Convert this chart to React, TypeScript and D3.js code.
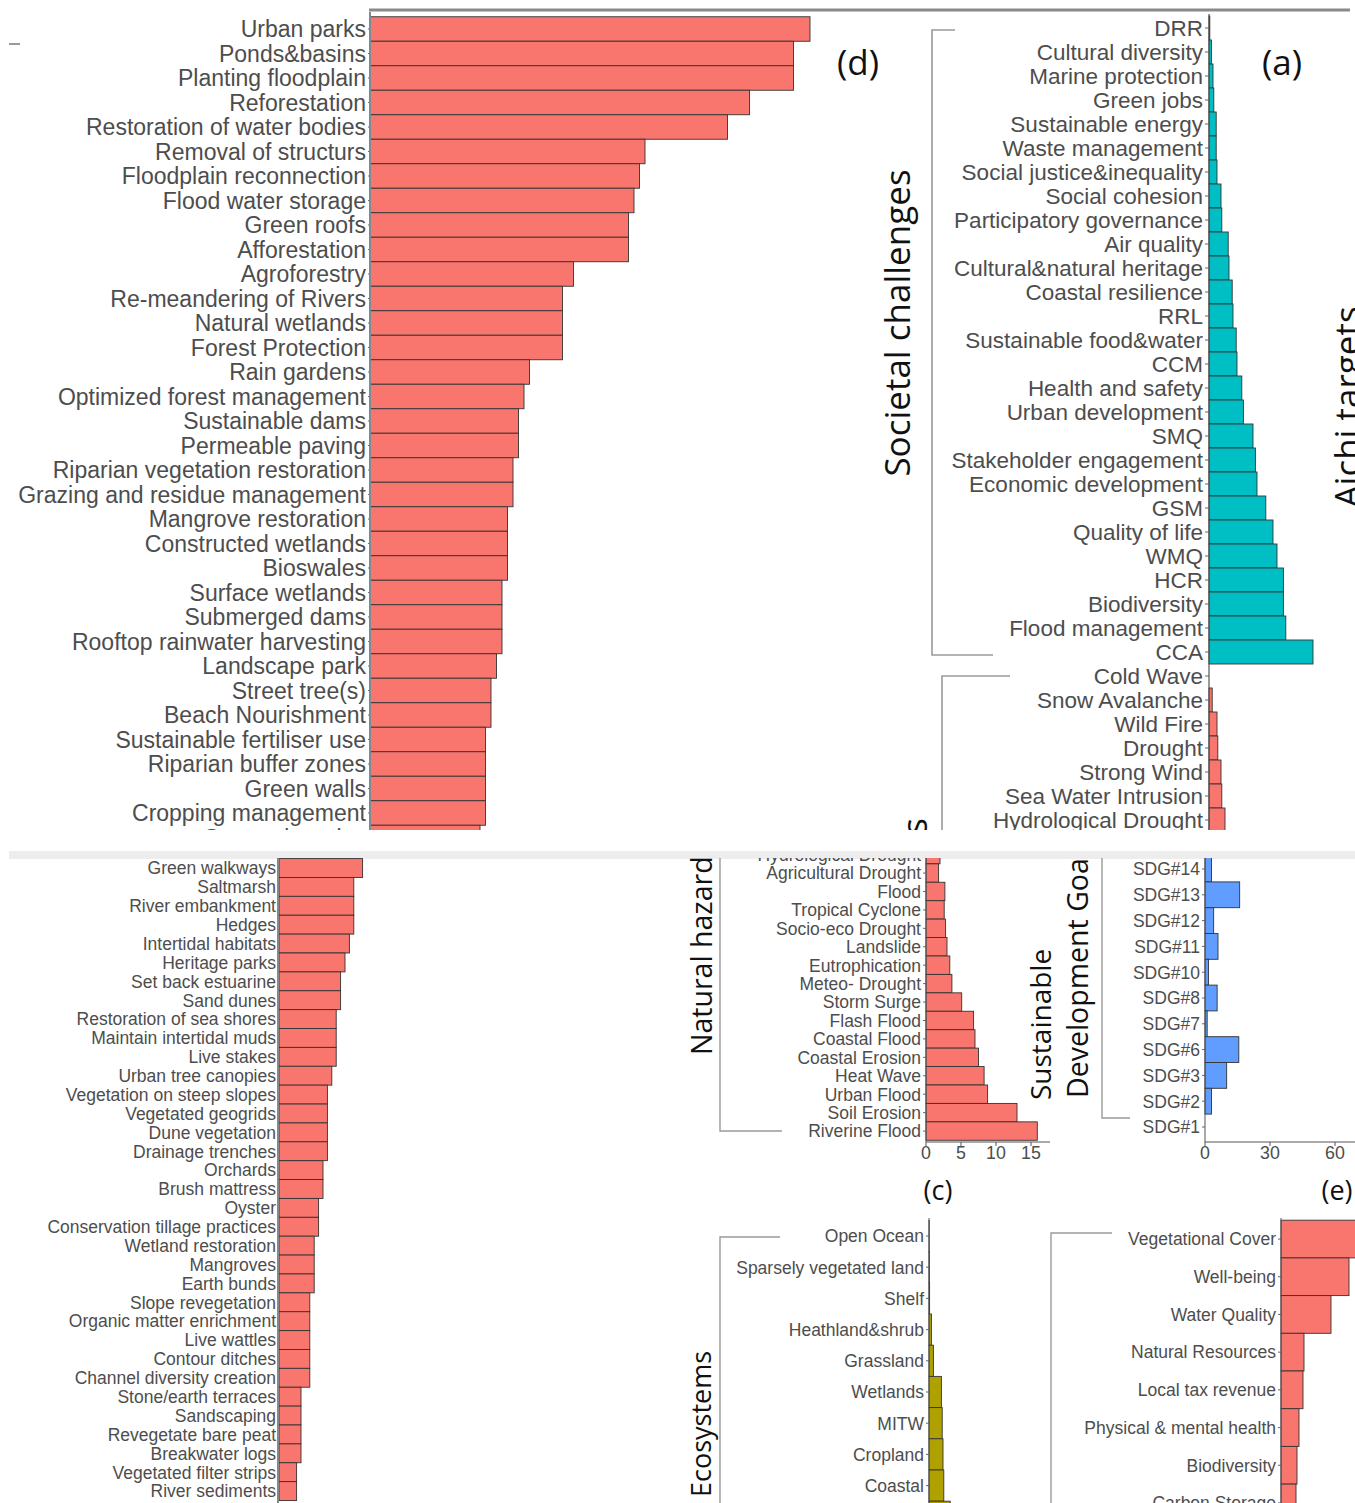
import React from 'react';
import * as d3 from 'd3';

// panel (d): nature-based solutions, upper screenshot
const nbsTop = [
  'Urban parks', 'Ponds&basins', 'Planting floodplain', 'Reforestation', 'Restoration of water bodies',
  'Removal of structurs', 'Floodplain reconnection', 'Flood water storage', 'Green roofs', 'Afforestation',
  'Agroforestry', 'Re-meandering of Rivers', 'Natural wetlands', 'Forest Protection', 'Rain gardens',
  'Optimized forest management', 'Sustainable dams', 'Permeable paving', 'Riparian vegetation restoration',
  'Grazing  and residue management', 'Mangrove restoration', 'Constructed wetlands', 'Bioswales',
  'Surface wetlands', 'Submerged dams', 'Rooftop rainwater harvesting', 'Landscape park', 'Street tree(s)',
  'Beach Nourishment', 'Sustainable fertiliser use', 'Riparian buffer zones', 'Green walls',
  'Cropping management', 'Grassed swales',
];
const nbsTopValues = [
  80, 77, 77, 69, 65, 50, 49, 48, 47, 47, 37, 35, 35, 35, 29, 28, 27, 27, 26,
  26, 25, 25, 25, 24, 24, 24, 23, 22, 22, 21, 21, 21, 21, 20,
];

// panel (d) continued, lower screenshot
const nbsBottom = [
  'Green walkways', 'Saltmarsh', 'River embankment', 'Hedges', 'Intertidal habitats', 'Heritage parks',
  'Set back estuarine', 'Sand dunes', 'Restoration of sea shores', 'Maintain intertidal muds', 'Live stakes',
  'Urban tree canopies', 'Vegetation on steep slopes', 'Vegetated geogrids', 'Dune vegetation',
  'Drainage trenches', 'Orchards', 'Brush mattress', 'Oyster', 'Conservation tillage practices',
  'Wetland restoration', 'Mangroves', 'Earth bunds', 'Slope revegetation', 'Organic matter enrichment',
  'Live wattles', 'Contour ditches', 'Channel diversity creation', 'Stone/earth terraces', 'Sandscaping',
  'Revegetate bare peat', 'Breakwater logs', 'Vegetated filter strips', 'River sediments',
];
const nbsBottomValues = [
  19, 17, 17, 17, 16, 15, 14, 14, 13, 13, 13, 12, 11, 11, 11, 11, 10, 10, 9, 9,
  8, 8, 8, 7, 7, 7, 7, 7, 5, 5, 5, 5, 4, 4,
];

// panel (a): societal challenges + natural hazards (upper screenshot)
const societal = [
  'DRR', 'Cultural diversity', 'Marine protection', 'Green jobs', 'Sustainable energy', 'Waste management',
  'Social justice&inequality', 'Social cohesion', 'Participatory governance', 'Air quality',
  'Cultural&natural heritage', 'Coastal resilience', 'RRL', 'Sustainable food&water', 'CCM',
  'Health and safety', 'Urban development', 'SMQ', 'Stakeholder engagement', 'Economic development',
  'GSM', 'Quality of life', 'WMQ', 'HCR', 'Biodiversity', 'Flood management', 'CCA',
];
const societalValues = [
  0.1, 0.3, 0.5, 0.6, 0.9, 0.9, 1.0, 1.5, 1.6, 2.4, 2.5, 2.9, 3.0, 3.4, 3.5,
  4.1, 4.3, 5.5, 5.8, 6.0, 7.1, 8.0, 8.5, 9.3, 9.3, 9.6, 13.0,
];
const hazardsTop = [
  'Cold Wave', 'Snow Avalanche', 'Wild Fire', 'Drought', 'Strong Wind', 'Sea Water Intrusion', 'Hydrological Drought',
];
const hazardsTopValues = [0, 0.4, 1.0, 1.1, 1.5, 1.6, 2.0];

// panel (c): natural hazards (lower screenshot)
const hazards = [
  'Hydrological Drought', 'Agricultural Drought', 'Flood', 'Tropical Cyclone', 'Socio-eco Drought', 'Landslide',
  'Eutrophication', 'Meteo- Drought', 'Storm Surge', 'Flash Flood', 'Coastal Flood', 'Coastal Erosion',
  'Heat Wave', 'Urban Flood', 'Soil Erosion', 'Riverine Flood',
];
const hazardsValues = [2.0, 1.8, 2.7, 2.6, 2.8, 3.0, 3.4, 3.7, 5.1, 6.8, 7.0, 7.5, 8.3, 8.8, 13.0, 15.9];
const hazardTicks = [0, 5, 10, 15];

// panel (e): SDGs
const sdgs = ['SDG#14', 'SDG#13', 'SDG#12', 'SDG#11', 'SDG#10', 'SDG#8', 'SDG#7', 'SDG#6', 'SDG#3', 'SDG#2', 'SDG#1'];
const sdgValues = [3, 16, 4, 6, 1.6, 5.6, 1, 15.6, 10, 3, 0];
const sdgTicks = [0, 30, 60];

// ecosystems
const ecosystems = [
  'Open Ocean', 'Sparsely vegetated land', 'Shelf', 'Heathland&shrub', 'Grassland', 'Wetlands', 'MITW',
  'Cropland', 'Coastal', 'Forest',
];
const ecosystemValues = [0.05, 0.1, 0.15, 0.6, 1.1, 3.1, 3.3, 3.5, 3.7, 5.3];

// co-benefits
const benefits = [
  'Vegetational Cover', 'Well-being', 'Water Quality', 'Natural Resources', 'Local tax revenue',
  'Physical & mental health', 'Biodiversity', 'Carbon Storage',
];
const benefitValues = [40, 34, 25, 11.5, 11, 9, 8, 7.5];

const RED = '#F8766D';
const TEAL = '#00BFC4';
const BLUE = '#619CFF';
const OLIVE = '#AFA200';
const LABEL = '#4d4d4d';
const W = 1355;
const H = 1503;

function Bars({ labels, values, y0, y1, x, fill, fontSize, squeeze = 1, tick = 3 }) {
  const y = d3.scaleBand().domain(labels).range([y0, y1]).padding(0);
  const zero = x(0);
  const colour = (i) => (Array.isArray(fill) ? fill[i] : fill);
  return (
    <g>
      {labels.map((d, i) => {
        const w = x(values[i]) - zero;
        return w > 0 ? (
          <rect key={d} x={zero} y={y(d)} width={w} height={y.bandwidth()}
            fill={colour(i)} stroke="#333" strokeWidth={0.9} />
        ) : null;
      })}
      {labels.map((d) => {
        const cy = y(d) + y.bandwidth() / 2;
        return (
          <g key={'l' + d}>
            <line x1={zero - tick} x2={zero} y1={cy} y2={cy} stroke="#666" strokeWidth={1} />
            <text transform={`translate(${zero - tick - 2},${cy}) scale(${squeeze},1)`}
              textAnchor="end" dy="0.36em" fontSize={fontSize} fill={LABEL}
              fontFamily="'Liberation Sans', Arial, sans-serif">{d}</text>
          </g>
        );
      })}
    </g>
  );
}

function VTitle({ x, y, text, size, anchor = 'middle' }) {
  return (
    <text transform={`translate(${x},${y}) rotate(-90)`} textAnchor={anchor} fontSize={size}
      fontFamily="'Open Sans', sans-serif" fill="#111">{text}</text>
  );
}

function XAxis({ x, y, ticks, end }) {
  return (
    <g>
      <line x1={x(0)} x2={end} y1={y} y2={y} stroke="#555" strokeWidth={1} />
      {ticks.map((t) => (
        <g key={t}>
          <line x1={x(t)} x2={x(t)} y1={y} y2={y + 4} stroke="#555" />
          <text x={x(t)} y={y + 11} dy="0.36em" textAnchor="middle" fontSize={17.8} fill={LABEL}
            fontFamily="'Liberation Sans', Arial, sans-serif">{t}</text>
        </g>
      ))}
    </g>
  );
}

export default function App() {
  const xD = d3.scaleLinear().domain([0, 80]).range([370, 810]);
  const xA = d3.scaleLinear().domain([0, 13]).range([1209, 1313]);
  const xB = d3.scaleLinear().domain([0, 20]).range([279, 367]);
  const xC = d3.scaleLinear().domain([0, 15]).range([926, 1031]);
  const xE = d3.scaleLinear().domain([0, 60]).range([1205, 1335]);
  const xEco = d3.scaleLinear().domain([0, 10]).range([929, 969]);
  const xBen = d3.scaleLinear().domain([0, 40]).range([1281, 1361]);
  const bracket = '#9a9a9a';
  const aLabels = [...societal, ...hazardsTop];
  const aValues = [...societalValues, ...hazardsTopValues];
  const aFills = [...societal.map(() => TEAL), ...hazardsTop.map(() => RED)];

  return (
    <div style={{ position: 'absolute', left: 0, top: 0 }}>
      <svg width={W} height={H} style={{ display: 'block', background: '#fff' }}>
        <defs>
          <clipPath id="top"><rect x={0} y={0} width={W} height={830} /></clipPath>
          <clipPath id="bottom"><rect x={0} y={858} width={W} height={H - 858} /></clipPath>
        </defs>

        {/* upper screenshot */}
        <g clipPath="url(#top)">
          <line x1={369} x2={1350} y1={10} y2={10} stroke="#8a8a8a" strokeWidth={3} />
          <line x1={9} x2={20} y1={44} y2={44} stroke="#999" strokeWidth={2} />
          <Bars labels={nbsTop} values={nbsTopValues} y0={16.75} y1={16.75 + 34 * 24.5} x={xD}
            fill={RED} fontSize={23} tick={2} />
          <line x1={370} x2={370} y1={12} y2={830} stroke="#7d8a94" strokeWidth={2} />
          <text x={858} y={62} dy="0.36em" textAnchor="middle" fontSize={35}
            fontFamily="'Open Sans', sans-serif" fill="#111">(d)</text>

          <Bars labels={aLabels} values={aValues} y0={16} y1={16 + 34 * 24} x={xA}
            fill={aFills} fontSize={22.5} tick={4} />
          <line x1={1209} x2={1209} y1={14} y2={830} stroke="#555" strokeWidth={1.2} />
          <text x={1282} y={62} dy="0.36em" textAnchor="middle" fontSize={35}
            fontFamily="'Open Sans', sans-serif" fill="#111">(a)</text>

          <path d="M955,30 H932 V655 H993" fill="none" stroke={bracket} strokeWidth={1.6} />
          <path d="M1010,676 H942 V830" fill="none" stroke={bracket} strokeWidth={1.6} />
          <VTitle x={910} y={323} text="Societal challenges" size={35} />
          <VTitle x={927} y={818} text="Natural hazards" size={35} anchor="end" />
          <VTitle x={1360} y={407} text="Aichi targets" size={35} />
        </g>

        {/* lower screenshot */}
        <rect x={9} y={851} width={W - 9} height={8} fill="#ededed" />
        <g clipPath="url(#bottom)">
          <Bars labels={nbsBottom} values={nbsBottomValues} y0={858.6} y1={858.6 + 34 * 18.88} x={xB}
            fill={RED} fontSize={17.5} tick={1} />
          <line x1={278} x2={278} y1={858} y2={H} stroke="#888" strokeWidth={2} />

          <Bars labels={hazards} values={hazardsValues} y0={845.4} y1={845.4 + 16 * 18.43} x={xC}
            fill={RED} fontSize={17.5} tick={3} />
          <line x1={926} x2={926} y1={858} y2={1142} stroke="#555" />
          <XAxis x={xC} y={1142} ticks={hazardTicks} end={1050} />
          <path d="M720,858 V1131 H782" fill="none" stroke={bracket} strokeWidth={1.4} />
          <VTitle x={712} y={1055} text="Natural hazards" size={28.5} anchor="start" />
          <text x={938} y={1190} dy="0.36em" textAnchor="middle" fontSize={27}
            fontFamily="'Open Sans', sans-serif" fill="#111">(c)</text>

          <Bars labels={sdgs} values={sdgValues} y0={856.1} y1={856.1 + 11 * 25.8} x={xE}
            fill={BLUE} fontSize={17.5} tick={3} />
          <line x1={1205} x2={1205} y1={858} y2={1142} stroke="#555" />
          <XAxis x={xE} y={1142} ticks={sdgTicks} end={W} />
          <path d="M1102,858 V1118 H1130" fill="none" stroke={bracket} strokeWidth={1.4} />
          <VTitle x={1051} y={1100} text="Sustainable" size={28} anchor="start" />
          <VTitle x={1088} y={1098} text="Development Goals" size={28.5} anchor="start" />
          <text x={1337} y={1190} dy="0.36em" textAnchor="middle" fontSize={27}
            fontFamily="'Open Sans', sans-serif" fill="#111">(e)</text>

          <Bars labels={ecosystems} values={ecosystemValues} y0={1220.4} y1={1220.4 + 10 * 31.2} x={xEco}
            fill={OLIVE} fontSize={17.5} tick={3} />
          <line x1={929} x2={929} y1={1218} y2={H} stroke="#555" />
          <path d="M780,1237 H720 V1503" fill="none" stroke={bracket} strokeWidth={1.4} />
          <VTitle x={711} y={1497} text="Ecosystems" size={27} anchor="start" />

          <Bars labels={benefits} values={benefitValues} y0={1220.2} y1={1220.2 + 8 * 37.7} x={xBen}
            fill={RED} fontSize={17.5} tick={3} />
          <line x1={1281} x2={1281} y1={1218} y2={H} stroke="#555" />
          <path d="M1112,1233 H1051 V1503" fill="none" stroke={bracket} strokeWidth={1.4} />
        </g>
      </svg>
    </div>
  );
}
